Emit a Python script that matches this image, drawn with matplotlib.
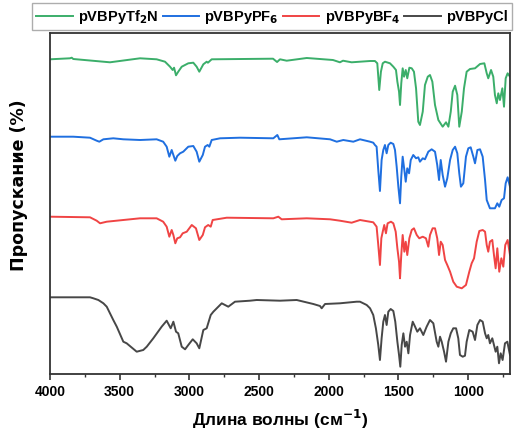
import matplotlib
matplotlib.use("Agg")
import matplotlib.pyplot as plt
from matplotlib.ticker import MultipleLocator, NullLocator

plt.rcParams['font.family'] = ['Liberation Sans', 'DejaVu Sans']
plt.rcParams['font.weight'] = 'bold'

# ---------------- data (wavenumber, cm-1 ; transmittance, arbitrary offset units) ----------------
wn_tf2n = [4000, 3857, 3844, 3833, 3570, 3354, 3235, 3175, 3139, 3120, 3110, 3096, 3080, 3055, 3008,
           2972, 2948, 2929, 2900, 2876, 2867, 2840, 2400, 2371, 2350, 2302, 2158, 1970, 1920, 1898,
           1836, 1776, 1704, 1669, 1652, 1638, 1626, 1613, 1597, 1561, 1537, 1518, 1508, 1496, 1489,
           1480, 1470, 1460, 1448, 1437, 1422, 1405, 1389, 1374, 1358, 1346, 1326, 1310, 1290, 1274,
           1257, 1238, 1214, 1183, 1159, 1142, 1125, 1111, 1094, 1078, 1064, 1046, 1030, 1011, 987,
           951, 915, 884, 867, 856, 836, 820, 808, 795, 784, 772, 755, 743, 731, 717, 700]
t_tf2n = [340.7, 341.7, 342.3, 341, 337.7, 341.7, 340.7, 338.3, 333.3, 330, 332.3, 324.7, 328.3, 333.3, 336.7,
          337.3, 333.3, 328.3, 335.7, 338.3, 337.3, 340.7, 341.3, 338, 340.7, 339.3, 342, 340, 337.7, 339.3,
          337.7, 338.3, 339, 339, 336.7, 310, 328.3, 336.7, 338.3, 336.7, 333.3, 330, 318.3, 308.3, 295,
          316.7, 331.7, 323.3, 330, 321.7, 332.3, 331.7, 328.3, 311.7, 278.3, 275, 288.3, 315, 323.3, 325,
          318.3, 295, 280, 273.3, 277.7, 273.3, 288.3, 308.3, 314.3, 305, 273.3, 288.3, 311.7, 328.3, 331,
          331.7, 336, 336.7, 326.7, 321.7, 330, 323.3, 305, 296.7, 306.7, 300, 311.7, 293.3, 321.7, 326.7, 323.3]

wn_pf6 = [4000, 3833, 3713, 3665, 3646, 3617, 3546, 3474, 3354, 3235, 3188, 3163, 3144, 3127, 3115,
          3101, 3087, 3067, 3044, 3008, 2972, 2948, 2929, 2904, 2888, 2869, 2857, 2840, 2780, 2637,
          2398, 2369, 2355, 2158, 1991, 1943, 1896, 1824, 1776, 1704, 1681, 1669, 1657, 1645, 1633,
          1621, 1609, 1597, 1585, 1573, 1556, 1537, 1525, 1513, 1501, 1489, 1480, 1470, 1458, 1448,
          1437, 1424, 1412, 1394, 1374, 1358, 1346, 1326, 1310, 1286, 1262, 1238, 1222, 1209, 1197,
          1183, 1166, 1150, 1130, 1111, 1094, 1078, 1064, 1052, 1035, 1016, 999, 982, 963, 951,
          934, 915, 896, 879, 867, 844, 808, 791, 777, 760, 743, 731, 717, 700]
t_pf6 = [263.3, 263.3, 262.3, 259.3, 258.3, 260.7, 261.7, 260.7, 260, 260.7, 258.3, 253.3, 243.3, 250, 245,
         239.3, 244, 246.7, 248.3, 253.3, 254, 248.3, 238.3, 245, 253.3, 255, 253.3, 260, 261.7, 262.3,
         261.7, 265, 260.7, 262.7, 260.7, 258.3, 260, 258.3, 260.7, 258.3, 257.3, 255, 253.3, 230, 209,
         240, 250, 255, 246.7, 255, 257.3, 256, 250, 233.3, 213.3, 196.7, 223.3, 243.3, 230, 218.3,
         231.7, 226.7, 240, 245, 241.7, 242.7, 238.3, 241.7, 240.7, 248.3, 250.7, 248.3, 235, 220, 240,
         225, 213.3, 221.7, 240, 250, 253.3, 246.7, 226.7, 213.3, 216.7, 243.3, 251.7, 252.7, 243.3, 236.7,
         250, 250.7, 243.3, 220, 200, 191.7, 191.7, 196.7, 193.3, 200, 201.7, 216.7, 222.7, 213.3]

wn_bf4 = [4000, 3713, 3665, 3641, 3593, 3474, 3354, 3235, 3188, 3163, 3144, 3127, 3115, 3101, 3087,
          3067, 3048, 3019, 2983, 2953, 2929, 2904, 2888, 2865, 2847, 2833, 2732, 2398, 2362, 2338,
          2158, 1991, 1920, 1836, 1776, 1681, 1657, 1645, 1633, 1623, 1613, 1602, 1590, 1578, 1554,
          1537, 1520, 1508, 1496, 1489, 1480, 1470, 1458, 1448, 1437, 1422, 1405, 1389, 1369, 1351,
          1326, 1303, 1286, 1274, 1255, 1238, 1222, 1209, 1197, 1183, 1166, 1150, 1130, 1107, 1082,
          1046, 1016, 992, 975, 958, 939, 920, 896, 879, 867, 856, 844, 827, 815, 803,
          791, 777, 762, 748, 734, 717, 700]
t_bf4 = [183.3, 182.7, 179.3, 176.7, 178.3, 180, 181.7, 181.7, 178.3, 173.3, 163.3, 170, 165, 156.7, 161.7,
         162.7, 166.7, 168.3, 175, 171.7, 160, 165, 172.7, 175, 173.3, 180, 182.3, 181.7, 183.3, 180.7,
         181.7, 180.7, 179.3, 177.3, 180, 177.7, 173.3, 155, 135, 161.7, 168.3, 175, 166.7, 176.7, 178.3,
         176.7, 168.3, 151.7, 138.3, 121.7, 145, 165, 148.3, 158.3, 145, 161.7, 170, 171.7, 165, 161.7,
         163.3, 161.7, 153.3, 165, 171.7, 171.7, 161.7, 145, 158.3, 155, 140, 135, 128.3, 118.3, 113.3,
         111.7, 115, 128.3, 136.7, 141.7, 158.3, 169, 170, 168.3, 155, 148.3, 158.3, 160, 145, 131.7,
         151.7, 128.3, 141.7, 133.3, 155, 160, 145]

wn_cl = [4000, 3833, 3713, 3689, 3653, 3617, 3593, 3546, 3521, 3474, 3450, 3378, 3331, 3306, 3259,
         3199, 3163, 3134, 3115, 3096, 3080, 3055, 3031, 3008, 2976, 2948, 2929, 2900, 2876, 2847,
         2828, 2768, 2721, 2673, 2565, 2517, 2350, 2230, 2111, 2063, 2051, 2027, 1920, 1800, 1776,
         1728, 1704, 1681, 1662, 1645, 1633, 1621, 1609, 1597, 1585, 1573, 1556, 1537, 1523, 1508,
         1496, 1487, 1477, 1465, 1453, 1441, 1429, 1417, 1398, 1381, 1365, 1346, 1322, 1298, 1274,
         1250, 1226, 1214, 1202, 1190, 1173, 1159, 1142, 1125, 1107, 1087, 1071, 1059, 1039, 1023,
         1011, 992, 968, 951, 934, 915, 896, 879, 867, 856, 844, 827, 815, 803, 791,
         779, 767, 753, 736, 719, 705, 700]
t_cl = [102.7, 102.7, 102.7, 101.7, 100, 96.7, 93.3, 80, 73.3, 58.3, 56.7, 48.3, 50, 53.3, 61.7,
        73.3, 79.3, 71.7, 78.3, 68.3, 66.7, 53.3, 50.7, 55, 60.7, 56.7, 51.7, 70, 71.7, 85,
        88.3, 96.7, 93.3, 98.3, 99.3, 100, 99.3, 100, 96, 94, 91.7, 96, 96.7, 98.3, 98.3,
        95, 91.7, 85, 71.7, 55, 40, 61.7, 78.3, 85, 75, 88.3, 91, 89, 78.3, 58.3,
        45, 33.3, 55, 66.7, 53.3, 58.3, 46.7, 65, 78.3, 73.3, 68.3, 71.7, 65, 73.3, 80,
        76.7, 58.3, 53.3, 63.3, 58.3, 48.3, 38.3, 58.3, 66.7, 71.7, 71.7, 61.7, 45, 43.3, 44.3,
        58.3, 70, 68.3, 60, 75, 80, 78.3, 66.7, 61.7, 65, 56.7, 61.7, 55, 48.3, 53.3,
        36.7, 46.7, 40, 56.7, 58.3, 48.3, 45]

labels = ['pVBPyTf$_\\mathbf{2}$N', 'pVBPyPF$_\\mathbf{6}$', 'pVBPyBF$_\\mathbf{4}$', 'pVBPyCl']
colors = ['#3BAE6A', '#1F6FE0', '#F04444', '#474747']
x_ticks = [4000, 3500, 3000, 2500, 2000, 1500, 1000]

# ---------------- figure ----------------
fig = plt.figure(figsize=(5.17, 4.36), dpi=100)
ax = fig.add_axes([50/517, 1 - 374/436, 460/517, 341/436])

series = [(wn_tf2n, t_tf2n), (wn_pf6, t_pf6), (wn_bf4, t_bf4), (wn_cl, t_cl)]
for (x, y), c, lab in zip(series, colors, labels):
    ax.plot(x, y, color=c, lw=1.4, label=lab, solid_joinstyle='round')

ax.set_xlim(4000, 700)
ax.set_ylim(26, 367)
ax.set_xticks(x_ticks)
ax.set_xticklabels([str(v) for v in x_ticks], fontsize=10, fontweight='bold')
ax.xaxis.set_minor_locator(MultipleLocator(250))
ax.yaxis.set_major_locator(NullLocator())
ax.tick_params(axis='x', which='major', direction='out', length=4, width=1.2, colors='#333333', pad=4)
ax.tick_params(axis='x', which='minor', direction='out', length=2.5, width=1.0, colors='#333333')
for lbl in ax.get_xticklabels():
    lbl.set_color('black')
for s in ax.spines.values():
    s.set_linewidth(1.3)
    s.set_color('#333333')

ax.set_xlabel('Длина волны (см$^{\\mathbf{-1}}$)', fontsize=12.5, fontweight='bold', labelpad=6)
ax.set_ylabel('Пропускание (%)', fontsize=12.5, fontweight='bold', family=['DejaVu Sans'])
ax.yaxis.set_label_coords(-0.048, 0.555)

leg = fig.legend(loc='lower left', bbox_to_anchor=(32/517, 1 - 30/436, 480/517, 27/436),
                 mode='expand', ncol=4, frameon=True, fancybox=False,
                 handlelength=2.5, handletextpad=0.35, columnspacing=0.2, borderaxespad=0,
                 borderpad=0.3, prop={'weight': 'bold', 'size': 10.5})
leg.get_frame().set_edgecolor('#999999')
leg.get_frame().set_linewidth(1.0)

fig.savefig('out.png', dpi=100)
